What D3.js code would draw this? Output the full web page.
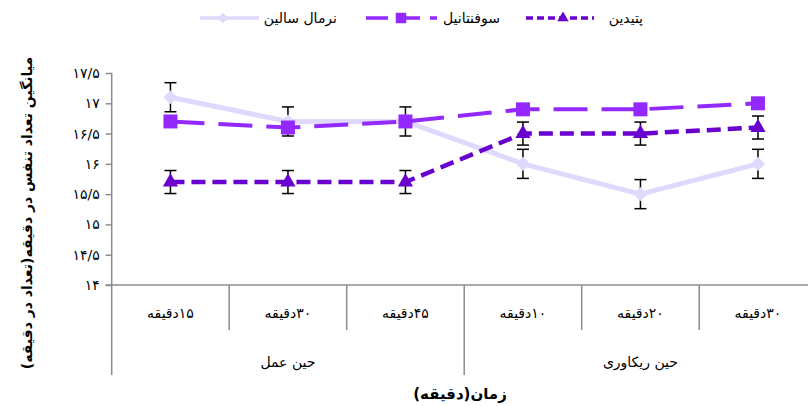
<!DOCTYPE html>
<html>
<head>
<meta charset="utf-8">
<script src="https://cdn.jsdelivr.net/npm/d3@7"></script>
<style>
  body { margin: 0; background: #fff; }
  svg { display: block; font-family: "DejaVu Sans", sans-serif; }
</style>
</head>
<body>
<svg id="chart" width="808" height="406"></svg>
<script>
// دسته‌ها و داده‌ها
const groups = ['حین عمل', 'حین ریکاوری'];
const categories = [
  { key: 'w15', group: 0, label: '۱۵دقیقه' },
  { key: 'w30', group: 0, label: '۳۰دقیقه' },
  { key: 'w45', group: 0, label: '۴۵دقیقه' },
  { key: 'r10', group: 1, label: '۱۰دقیقه' },
  { key: 'r20', group: 1, label: '۲۰دقیقه' },
  { key: 'r30', group: 1, label: '۳۰دقیقه' }
];
const normalSaline = [17.1, 16.7, 16.7, 16.0, 15.5, 16.0];
const normalSalineErr = [0.24, 0.24, 0.24, 0.24, 0.24, 0.24];
const sufentanil = [16.7, 16.6, 16.7, 16.9, 16.9, 17.0];
const pethidine = [15.7, 15.7, 15.7, 16.5, 16.5, 16.6];
const pethidineErr = [0.19, 0.19, 0.19, 0.19, 0.19, 0.19];
const yTicks = [14, 14.5, 15, 15.5, 16, 16.5, 17, 17.5];

const series = [
  { name: 'نرمال سالین', values: normalSaline, err: normalSalineErr, color: '#e0d8fd',
    dash: null, width: 5, symbol: 'diamond' },
  { name: 'سوفنتانیل', values: sufentanil, err: null, color: '#9429ff',
    dash: '34,14', width: 4, symbol: 'square' },
  { name: 'پتیدین', values: pethidine, err: pethidineErr, color: '#6a00cf',
    dash: '14,7', width: 4.5, symbol: 'triangle' }
];

const svg = d3.select('#chart');
const plotLeft = 111.7, plotTop = 73, plotBottom = 285;
const band = 117.5;

const x = d3.scaleBand()
  .domain(categories.map(c => c.key))
  .range([plotLeft, plotLeft + band * categories.length]);
const y = d3.scaleLinear().domain([14, 17.5]).range([plotBottom, plotTop]);

const toFa = s => String(s).replace(/\d/g, d => '۰۱۲۳۴۵۶۷۸۹'[d]).replace('.', '/');
const axisColor = '#8c8c8c';

// محور عمودی
const yAxis = svg.append('g')
  .attr('transform', `translate(${plotLeft},0)`)
  .call(d3.axisLeft(y).tickValues(yTicks).tickFormat(toFa).tickSize(6).tickPadding(6));
yAxis.select('.domain').remove();
yAxis.selectAll('.tick line').attr('stroke', axisColor).attr('stroke-width', 1.5);
yAxis.selectAll('.tick text')
  .attr('font-size', '14px')
  .attr('font-family', '"DejaVu Sans", sans-serif')
  .attr('fill', '#000');

svg.append('line')
  .attr('x1', plotLeft).attr('x2', plotLeft)
  .attr('y1', plotTop).attr('y2', 375)
  .attr('stroke', axisColor).attr('stroke-width', 1.5);

// محور افقی و جدول دسته‌ها
svg.append('line')
  .attr('x1', plotLeft - 6).attr('x2', 808)
  .attr('y1', plotBottom).attr('y2', plotBottom)
  .attr('stroke', axisColor).attr('stroke-width', 1.5);

categories.forEach((c, i) => {
  if (i === 0) return;
  const isGroupEdge = c.group !== categories[i - 1].group;
  svg.append('line')
    .attr('x1', x(c.key)).attr('x2', x(c.key))
    .attr('y1', plotBottom).attr('y2', isGroupEdge ? 375 : 330)
    .attr('stroke', axisColor).attr('stroke-width', 1.5);
});

svg.append('g')
  .selectAll('text')
  .data(categories)
  .join('text')
  .attr('x', d => x(d.key) + x.bandwidth() / 2)
  .attr('y', 313)
  .attr('dy', '0.35em')
  .attr('direction', 'rtl')
  .attr('text-anchor', 'middle')
  .attr('font-size', '14px')
  .text(d => d.label);

groups.forEach((g, gi) => {
  const cats = categories.filter(c => c.group === gi);
  const x0 = x(cats[0].key);
  const x1 = x(cats[cats.length - 1].key) + x.bandwidth();
  svg.append('text')
    .attr('x', (x0 + x1) / 2)
    .attr('y', 362)
    .attr('dy', '0.35em')
    .attr('direction', 'rtl')
    .attr('text-anchor', 'middle')
    .attr('font-size', '14px')
    .text(g);
});

// عنوان محورها
svg.append('text')
  .attr('transform', 'translate(27,213) rotate(-90)')
  .attr('dy', '0.35em')
  .attr('direction', 'rtl')
  .attr('text-anchor', 'middle')
  .attr('font-size', '14px')
  .attr('font-weight', 'bold')
  .text('میانگین تعداد تنفس در دقیقه(تعداد در دقیقه)');

svg.append('text')
  .attr('x', 460)
  .attr('y', 394)
  .attr('dy', '0.35em')
  .attr('direction', 'rtl')
  .attr('text-anchor', 'middle')
  .attr('font-size', '15px')
  .attr('font-weight', 'bold')
  .text('زمان(دقیقه)');

// نشانگرها
function symbolPath(type, scale) {
  if (type === 'square') return d3.symbol(d3.symbolSquare, 196 * scale * scale)();
  if (type === 'diamond') return d3.symbol(d3.symbolSquare, 100 * scale * scale)();
  return d3.symbol(d3.symbolTriangle, 100 * scale * scale)();
}
const cx = i => x(categories[i].key) + x.bandwidth() / 2;

// خطای معیار
series.forEach(s => {
  if (!s.err) return;
  const g = svg.append('g').attr('stroke', '#000').attr('stroke-width', 1.5);
  s.values.forEach((v, i) => {
    const yt = y(v + s.err[i]), yb = y(v - s.err[i]);
    g.append('line').attr('x1', cx(i)).attr('x2', cx(i)).attr('y1', yt).attr('y2', yb);
    g.append('line').attr('x1', cx(i) - 6).attr('x2', cx(i) + 6).attr('y1', yt).attr('y2', yt);
    g.append('line').attr('x1', cx(i) - 6).attr('x2', cx(i) + 6).attr('y1', yb).attr('y2', yb);
  });
});

const line = d3.line().x((d, i) => cx(i)).y(d => y(d));

series.forEach(s => {
  svg.append('path')
    .datum(s.values)
    .attr('d', line)
    .attr('fill', 'none')
    .attr('stroke', s.color)
    .attr('stroke-width', s.width)
    .attr('stroke-dasharray', s.dash)
    .attr('stroke-linejoin', 'round');

  svg.append('g')
    .selectAll('path')
    .data(s.values)
    .join('path')
    .attr('d', symbolPath(s.symbol, 1))
    .attr('transform', (d, i) =>
      `translate(${cx(i)},${y(d)})` + (s.symbol === 'diamond' ? ' rotate(45)' : ''))
    .attr('fill', s.color);
});

// راهنما
const legendItems = [
  { s: series[0], x1: 200, x2: 259, mx: 223, tx: 337 },
  { s: series[1], x1: 366, x2: 437, mx: 401, tx: 500 },
  { s: series[2], x1: 526, x2: 594, mx: 563, tx: 643 }
];
const legend = svg.append('g').attr('transform', 'translate(0,18)');
legendItems.forEach(item => {
  legend.append('line')
    .attr('x1', item.x1).attr('x2', item.x2)
    .attr('y1', 0).attr('y2', 0)
    .attr('stroke', item.s.color)
    .attr('stroke-width', 3.5)
    .attr('stroke-dasharray', item.s.dash ? (item.s.symbol === 'square' ? '22,10' : '7,4') : null);
  legend.append('path')
    .attr('d', symbolPath(item.s.symbol, 0.75))
    .attr('transform', `translate(${item.mx},0)` + (item.s.symbol === 'diamond' ? ' rotate(45)' : ''))
    .attr('fill', item.s.color);
  legend.append('text')
    .attr('x', item.tx)
    .attr('y', 0)
    .attr('dy', '0.35em')
    .attr('direction', 'rtl')
    .attr('text-anchor', 'start')
    .attr('font-size', '14px')
    .text(item.s.name);
});
</script>
</body>
</html>
